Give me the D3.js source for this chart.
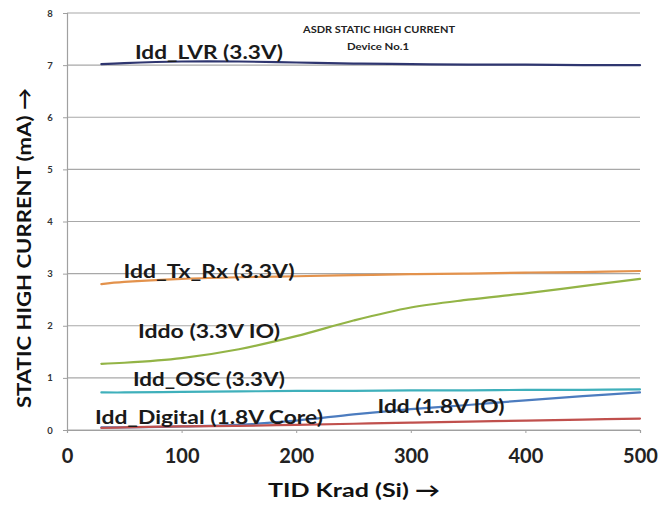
<!DOCTYPE html>
<html>
<head>
<meta charset="utf-8">
<script src="https://cdn.jsdelivr.net/npm/d3@7"></script>
<style>
  html, body { margin: 0; padding: 0; background: #fff; }
  svg { display: block; }
  text { font-family: Lato, "Open Sans", sans-serif; font-weight: bold; }
</style>
</head>
<body>
<svg id="chart" width="667" height="507"></svg>
<script>
// Total ionizing dose steps (Krad Si)
const tid = [30, 50, 100, 150, 200, 250, 300, 350, 400, 450, 500];

// Static high current per supply rail (mA)
const iddLVR     = [7.02, 7.04, 7.07, 7.07, 7.05, 7.03, 7.02, 7.01, 7.01, 7.00, 7.00];
const iddTxRx    = [2.80, 2.84, 2.90, 2.93, 2.95, 2.97, 2.99, 3.00, 3.02, 3.03, 3.05];
const iddo       = [1.27, 1.29, 1.38, 1.55, 1.80, 2.10, 2.35, 2.50, 2.62, 2.76, 2.90];
const iddOSC     = [0.72, 0.72, 0.73, 0.74, 0.75, 0.75, 0.76, 0.76, 0.77, 0.77, 0.78];
const iddIO      = [0.05, 0.05, 0.07, 0.10, 0.18, 0.30, 0.40, 0.48, 0.57, 0.65, 0.72];
const iddDigital = [0.04, 0.05, 0.07, 0.08, 0.10, 0.12, 0.14, 0.16, 0.18, 0.20, 0.22];

const seriesNames = ["Idd_LVR (3.3V)", "Idd_Tx_Rx (3.3V)", "Iddo (3.3V IO)",
                     "Idd_OSC (3.3V)", "Idd (1.8V IO)", "Idd_Digital (1.8V Core)"];
const seriesValues = [iddLVR, iddTxRx, iddo, iddOSC, iddIO, iddDigital];

const xTicks = [0, 100, 200, 300, 400, 500];
const yTicks = [0, 1, 2, 3, 4, 5, 6, 7, 8];

const colors = ["#2f3670", "#e3924c", "#93b446", "#3fb0bb", "#4c7cbf", "#c0504d"];

// label placement for each series: [x-centre, y-centre, width]
const labelPos = [
  [209, 52, 148],
  [209, 271, 171],
  [209, 331, 142],
  [209, 379, 152],
  [441, 406, 127],
  [209, 417, 228]
];

const svg = d3.select("#chart");
const x = d3.scaleLinear().domain([0, 500]).range([67, 640]);
const y = d3.scaleLinear().domain([0, 8]).range([430, 13]);

// horizontal gridlines
svg.append("g")
  .selectAll("line")
  .data(yTicks)
  .join("line")
  .attr("x1", x(0)).attr("x2", x(500))
  .attr("y1", d => y(d)).attr("y2", d => y(d))
  .attr("stroke", "#a8a8a8").attr("stroke-width", 1.2);

// y axis
const yAxis = svg.append("g")
  .attr("transform", `translate(${x(0)},0)`)
  .call(d3.axisLeft(y).tickValues(yTicks).tickSize(4).tickFormat(d3.format("d")));
yAxis.select(".domain").attr("stroke", "#a0a0a0").attr("stroke-width", 1.2);
yAxis.selectAll(".tick line").attr("stroke", "#a0a0a0");
yAxis.selectAll(".tick text")
  .attr("x", -17).attr("text-anchor", "middle")
  .attr("font-size", 9.5).attr("fill", "#333")
  .style("font-family", "Lato, sans-serif").style("font-weight", "bold");

// x axis
const xAxis = svg.append("g")
  .attr("transform", `translate(0,${y(0)})`)
  .call(d3.axisBottom(x).tickValues(xTicks).tickSize(3).tickFormat(d3.format("d")));
xAxis.select(".domain").attr("stroke", "#a0a0a0").attr("stroke-width", 1.2);
xAxis.selectAll(".tick line").attr("stroke", "#a0a0a0");
xAxis.selectAll(".tick text")
  .attr("y", 19).attr("font-size", 20).attr("fill", "#222")
  .style("font-family", "Lato, sans-serif").style("font-weight", "bold");

// series lines
const line = d3.line()
  .x((d, i) => x(tid[i]))
  .y(d => y(d))
  .curve(d3.curveCatmullRom.alpha(0.5));

svg.append("g")
  .selectAll("path")
  .data(seriesValues)
  .join("path")
  .attr("d", line)
  .attr("fill", "none")
  .attr("stroke", (d, i) => colors[i])
  .attr("stroke-width", 2.2)
  .attr("stroke-linecap", "round");

// series labels
svg.append("g")
  .selectAll("text")
  .data(seriesNames)
  .join("text")
  .attr("x", (d, i) => labelPos[i][0])
  .attr("y", (d, i) => labelPos[i][1])
  .attr("dy", "0.35em")
  .attr("text-anchor", "middle")
  .attr("textLength", (d, i) => labelPos[i][2])
  .attr("lengthAdjust", "spacingAndGlyphs")
  .attr("font-size", 19.5)
  .attr("fill", "#1a1a1a")
  .text(d => d);

// chart title
svg.append("text")
  .attr("x", 379).attr("y", 29).attr("dy", "0.35em")
  .attr("text-anchor", "middle").attr("font-size", 10)
  .attr("textLength", 152).attr("lengthAdjust", "spacingAndGlyphs")
  .attr("fill", "#222")
  .text("ASDR STATIC HIGH CURRENT");
svg.append("text")
  .attr("x", 378).attr("y", 46).attr("dy", "0.35em")
  .attr("text-anchor", "middle").attr("font-size", 10)
  .attr("textLength", 62).attr("lengthAdjust", "spacingAndGlyphs")
  .attr("fill", "#222")
  .text("Device No.1");

// axis titles
svg.append("text")
  .attr("x", 354).attr("y", 490).attr("dy", "0.35em")
  .attr("text-anchor", "middle").attr("font-size", 19.5)
  .attr("textLength", 172).attr("lengthAdjust", "spacingAndGlyphs")
  .attr("fill", "#111")
  .text("TID Krad (Si) \u2192");

svg.append("text")
  .attr("transform", "translate(24,248) rotate(-90)")
  .attr("dy", "0.35em")
  .attr("text-anchor", "middle").attr("font-size", 19.5)
  .attr("textLength", 320).attr("lengthAdjust", "spacingAndGlyphs")
  .attr("fill", "#111")
  .text("STATIC HIGH CURRENT (mA) \u2192");
</script>
</body>
</html>
